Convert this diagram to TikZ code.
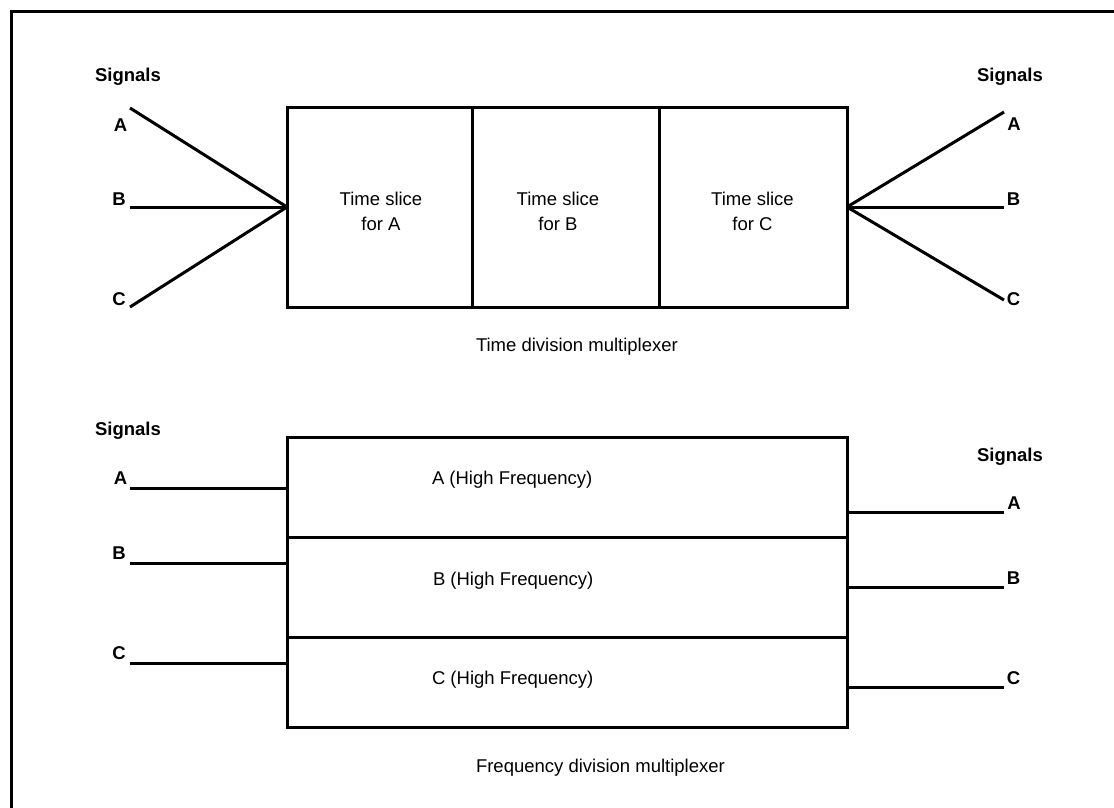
\documentclass[tikz,border=0pt]{standalone}
\usepackage{fontspec}
\setmainfont{Liberation Sans}
\begin{document}
\begin{tikzpicture}[x=1pt,y=-1pt,
  every node/.style={inner sep=0pt, outer sep=0pt},
  txt/.style={font=\fontsize{18.5}{25}\selectfont},
  lbl/.style={font=\fontsize{18.5}{25}\selectfont\bfseries, anchor=base},
  cell/.style={draw, line width=3pt, rectangle},
  wire/.style={line width=3pt},
  frame/.style={line width=3pt}]
\useasboundingbox (0,0) rectangle (1114,807);
\draw[frame] (11,820) -- (11,11) -- (1120,11);

% ---- Time division multiplexer ----
\node[cell, minimum width=185pt, minimum height=200pt] (ta) at (379.5,207) {};
\node[cell, minimum width=187pt, minimum height=200pt] (tb) at (565.5,207) {};
\node[cell, minimum width=188pt, minimum height=200pt] (tc) at (753,207) {};

\node[txt, align=center] (tta) at (381,211) {Time slice\\for A};
\node[txt, align=center] (ttb) at (558,211) {Time slice\\for B};
\node[txt, align=center] (ttc) at (752.5,211) {Time slice\\for C};
\node[txt, anchor=base west] (tdm) at (476,351) {Time division multiplexer};

\coordinate (tiA) at (130,108);
\coordinate (tiB) at (130,207);
\coordinate (tiC) at (130,307);
\coordinate (toA) at (1004,112);
\coordinate (toB) at (1004,207);
\coordinate (toC) at (1004,300);
\draw[wire] (tiA) -- (ta.west);
\draw[wire] (tiB) -- (ta.west);
\draw[wire] (tiC) -- (ta.west);
\draw[wire] (tc.east) -- (toA);
\draw[wire] (tc.east) -- (toB);
\draw[wire] (tc.east) -- (toC);

\node[lbl] (tsl) at (128,81) {Signals};
\node[lbl] (tla) at (120.5,131) {A};
\node[lbl] (tlb) at (119,205) {B};
\node[lbl] (tlc) at (119,305) {C};
\node[lbl] (tsr) at (1010,81) {Signals};
\node[lbl] (tra) at (1014,130) {A};
\node[lbl] (trb) at (1013.5,205) {B};
\node[lbl] (trc) at (1013.5,305) {C};

% ---- Frequency division multiplexer ----
\node[cell, minimum width=560pt, minimum height=100pt] (fa) at (567,487) {};
\node[cell, minimum width=560pt, minimum height=100pt] (fb) at (567,587) {};
\node[cell, minimum width=560pt, minimum height=90pt] (fc) at (567,682) {};

\node[txt, anchor=base west] (fta) at (432,484) {A (High Frequency)};
\node[txt, anchor=base west] (ftb) at (433,585) {B (High Frequency)};
\node[txt, anchor=base west] (ftc) at (432,684) {C (High Frequency)};
\node[txt, anchor=base west] (fdm) at (476,772) {Frequency division multiplexer};

\coordinate (fiA) at (130,488);
\coordinate (fiB) at (130,563);
\coordinate (fiC) at (130,663);
\coordinate (foA) at (1004,512);
\coordinate (foB) at (1004,587);
\coordinate (foC) at (1004,687);
\draw[wire] (fiA) -- (fiA -| fa.west);
\draw[wire] (fiB) -- (fiB -| fb.west);
\draw[wire] (fiC) -- (fiC -| fc.west);
\draw[wire] (foA -| fa.east) -- (foA);
\draw[wire] (foB -| fb.east) -- (foB);
\draw[wire] (foC -| fc.east) -- (foC);

\node[lbl] (fsl) at (128,435) {Signals};
\node[lbl] (fla) at (120.5,484) {A};
\node[lbl] (flb) at (119,559) {B};
\node[lbl] (flc) at (119,659) {C};
\node[lbl] (fsr) at (1010,461) {Signals};
\node[lbl] (fra) at (1014,509) {A};
\node[lbl] (frb) at (1013.5,584) {B};
\node[lbl] (frc) at (1013.5,684) {C};
\end{tikzpicture}
\end{document}
